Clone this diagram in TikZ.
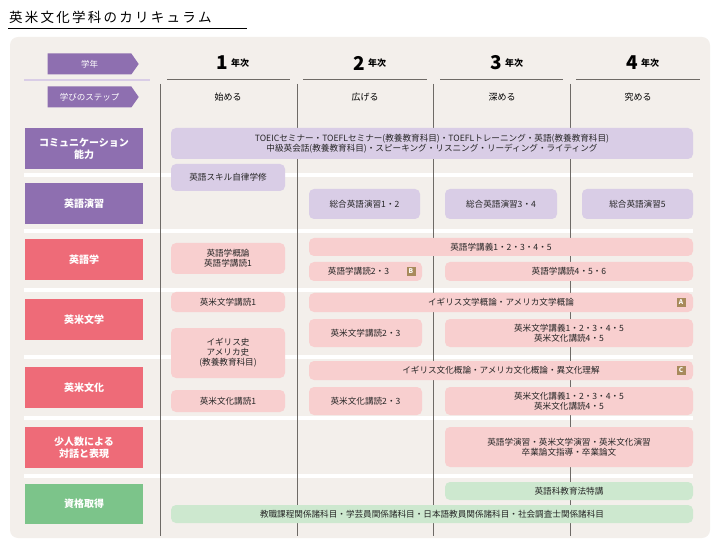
\documentclass[tikz,border=0pt]{standalone}
\usepackage{fontspec}
\setmainfont{Noto Sans CJK JP}
\usetikzlibrary{shapes.symbols}
\definecolor{bg}{HTML}{F3EFEB}
\definecolor{pur}{HTML}{8E6FB0}
\definecolor{lpur}{HTML}{D9CDE6}
\definecolor{pnk}{HTML}{EE6B78}
\definecolor{lpnk}{HTML}{F8CFCF}
\definecolor{grn}{HTML}{7CC48A}
\definecolor{lgrn}{HTML}{CDE8CF}
\definecolor{bdg}{HTML}{A88A5C}
\definecolor{ln}{HTML}{6E6A66}
\tikzset{
 cat/.style={fill=#1,text=white,font=\fontsize{10}{12}\selectfont\bfseries,align=center,inner sep=0},
 item/.style={fill=#1,rounded corners=5pt,font=\fontsize{8.6}{10}\selectfont,align=center,inner sep=0,text=black!85},
 hd/.style={fill=pur,text=white,font=\fontsize{8.5}{9}\selectfont,signal,signal to=east,signal pointer angle=110,minimum width=91,minimum height=21,inner sep=0},
 badge/.style={fill=bdg,text=white,font=\fontsize{6.5}{6}\selectfont\bfseries,minimum size=9,inner sep=0},
}
\newcommand{\bx}[5]{\node[item=#1,minimum width=#4-#2,minimum height=#5-#3] at ({(#2+#4)/2},{(#3+#5)/2})}
\newcommand{\cb}[5]{\node[cat=#1,minimum width=#4-#2,minimum height=#5-#3] at ({(#2+#4)/2},{(#3+#5)/2})}
\begin{document}
\begin{tikzpicture}[x=1pt,y=-1pt]
\useasboundingbox (0,0) rectangle (720,545);
\node[anchor=west,font=\fontsize{13.5}{14}\selectfont,inner sep=0] (title) at (9,17) {英\,米\,文\,化\,学\,科\,の\,カ\,リ\,キ\,ュ\,ラ\,ム};
\draw[line width=1pt] (8,29) -- (247,29);
\fill[bg,rounded corners=8pt] (10,37) rectangle (710,538);
\foreach \y in {175,231,290,357,418,476} \fill[white] (24,\y-2) rectangle (693,\y+2);
\node[hd] (h1) at (89.5,64) {学年};
\draw[lpur,line width=1.2pt] (24,80) -- (150,80);
\node[hd] (h2) at (89.5,97) {学びのステップ};
\foreach \a/\b/\n/\s/\c in {167/290/1/始める/228,303/427/2/広げる/365,440/563/3/深める/502,576/700/4/究める/638}{
 \draw[ln,line width=1pt] (\a,80) -- (\b,80);
 \node[font=\fontsize{19}{19}\selectfont\bfseries,anchor=east,inner sep=0] at (\c,63) {\n};
 \node[font=\fontsize{9}{9}\selectfont\bfseries,anchor=west,inner sep=0] at (\c+3,63) {年次};
 \node[font=\fontsize{9}{9}\selectfont] at (\c,97) {\s};
}
\foreach \x in {160,297,433,570} \draw[ln,line width=0.8pt] (\x,84) -- (\x,536);
\cb{pur}{25}{128}{143}{169} (c1) {コミュニケーション\\能力};
\cb{pur}{25}{183}{143}{224} (c2) {英語演習};
\cb{pnk}{25}{239}{143}{280} (c3) {英語学};
\cb{pnk}{25}{299}{143}{340} (c4) {英米文学};
\cb{pnk}{25}{367}{143}{408} (c5) {英米文化};
\cb{pnk}{25}{427}{143}{468} (c6) {少人数による\\対話と表現};
\cb{grn}{25}{484}{143}{524} (c7) {資格取得};
\bx{lpur}{171}{128}{693}{159} (i1) {TOEICセミナー・TOEFLセミナー(教養教育科目)・TOEFLトレーニング・英語(教養教育科目)\\中級英会話(教養教育科目)・スピーキング・リスニング・リーディング・ライティング};
\bx{lpur}{171}{164}{285}{191} (i2) {英語スキル自律学修};
\bx{lpur}{309}{189}{420}{219} (i3) {総合英語演習1・2};
\bx{lpur}{445}{189}{557}{219} (i4) {総合英語演習3・4};
\bx{lpur}{582}{189}{693}{219} (i5) {総合英語演習5};
\bx{lpnk}{171}{243}{285}{274} (i6) {英語学概論\\英語学講読1};
\bx{lpnk}{309}{238}{693}{256} (i7) {英語学講義1・2・3・4・5};
\bx{lpnk}{309}{262}{422}{281} (i8) {英語学講読2・3\hspace{14pt}};
\node[badge] (bB) at (411,271.5) {B};
\bx{lpnk}{445}{262}{693}{281} (i9) {英語学講読4・5・6};
\bx{lpnk}{171}{292}{285}{312} (i10) {英米文学講読1};
\bx{lpnk}{309}{293}{693}{312} (i11) {イギリス文学概論・アメリカ文学概論};
\node[badge] (bA) at (681,302.5) {A};
\bx{lpnk}{309}{319}{422}{347} (i12) {英米文学講読2・3};
\bx{lpnk}{445}{319}{693}{347} (i13) {英米文学講義1・2・3・4・5\\英米文化講読4・5};
\bx{lpnk}{171}{328}{285}{378} (i14) {イギリス史\\アメリカ史\\(教養教育科目)};
\bx{lpnk}{309}{361}{693}{380} (i15) {イギリス文化概論・アメリカ文化概論・異文化理解};
\node[badge] (bC) at (681,370.5) {C};
\bx{lpnk}{171}{390}{285}{412} (i16) {英米文化講読1};
\bx{lpnk}{309}{387}{422}{415} (i17) {英米文化講読2・3};
\bx{lpnk}{445}{387}{693}{415} (i18) {英米文化講義1・2・3・4・5\\英米文化講読4・5};
\bx{lpnk}{445}{427}{693}{467} (i19) {英語学演習・英米文学演習・英米文化演習\\卒業論文指導・卒業論文};
\bx{lgrn}{445}{482}{693}{500} (i20) {英語科教育法特講};
\bx{lgrn}{171}{505}{693}{523} (i21) {教職課程関係諸科目・学芸員関係諸科目・日本語教員関係諸科目・社会調査士関係諸科目};
\end{tikzpicture}
\end{document}
